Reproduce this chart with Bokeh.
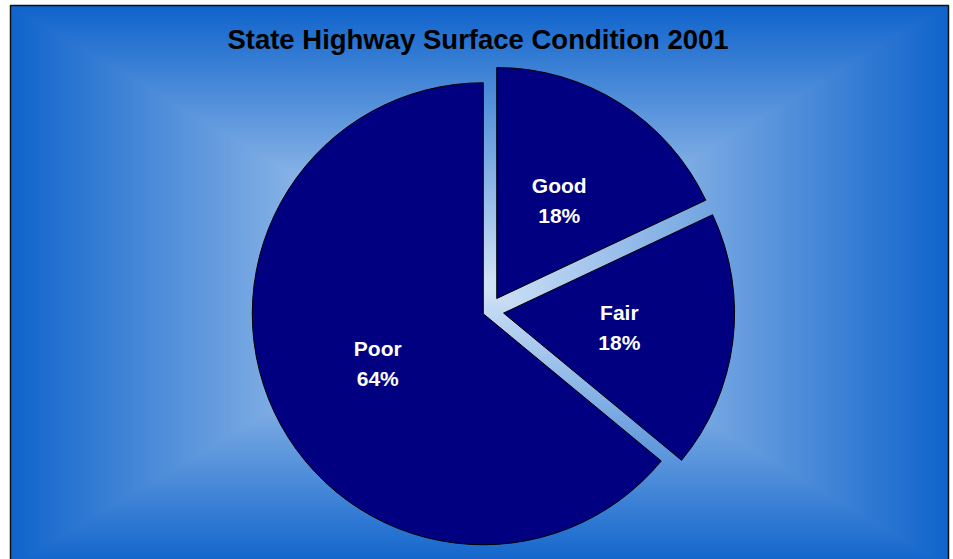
import numpy as np
from bokeh.plotting import figure
from bokeh.models import Range1d
from bokeh.core.properties import value
from bokeh.embed import file_html
from bokeh.resources import INLINE

# ---- data ----
categories = ["Good", "Fair", "Poor"]
values = [18, 18, 64]
title_text = "State Highway Surface Condition 2001"

# ---- styling / layout ----
W, H = 953, 559
CX, CY = 488.2, H - 310.7       # pie centre (data units == pixels)
R = 231
explode = [15, 15, 6]            # px offset of each slice along its bisector
slice_color = "#000080"
FONT = "Liberation Sans"

p = figure(width=W, height=H, x_range=Range1d(0, W), y_range=Range1d(0, H),
           output_backend="svg", toolbar_location=None, tools="", min_border=0)
p.axis.visible = False
p.grid.visible = False
p.outline_line_color = None
p.title.visible = False
p.background_fill_color = "white"
p.border_fill_color = "white"

# ---- background rectangular gradient (light centre -> blue edges) ----
x0, x1 = 10, 948
ytop, ybot = 5, 566
gw, gh = x1 - x0, ybot - ytop
xs = (np.arange(gw) + 0.5 - gw / 2) / (gw / 2)
ys = (np.arange(gh) + 0.5 - gh / 2) / (gh / 2)
t = np.maximum(np.abs(xs)[None, :], np.abs(ys)[:, None])
c_center = np.array([212, 229, 247], dtype=float)
c_edge = np.array([16, 100, 204], dtype=float)
rgb = c_center[None, None, :] + (c_edge - c_center)[None, None, :] * t[..., None]
img = np.empty((gh, gw), dtype=np.uint32)
view = img.view(dtype=np.uint8).reshape((gh, gw, 4))
view[..., 0] = rgb[..., 0].astype(np.uint8)
view[..., 1] = rgb[..., 1].astype(np.uint8)
view[..., 2] = rgb[..., 2].astype(np.uint8)
view[..., 3] = 255
p.image_rgba(image=[img], x=x0, y=H - ybot, dw=gw, dh=gh)
p.quad(left=[x0], right=[x1], top=[H - ytop], bottom=[H - ybot],
       fill_color=None, line_color="#111111", line_width=1.5)

# ---- pie ----
vals = np.array(values, dtype=float)
frac = vals / vals.sum()
cum = np.concatenate([[0], np.cumsum(frac)]) * 360.0   # clockwise from 12 o'clock
theta_s, theta_e = cum[:-1], cum[1:]
mid = np.radians(90 - (theta_s + theta_e) / 2)          # bisector, math angle
ex = np.array(explode, dtype=float)
px = CX + ex * np.cos(mid)
py = CY + ex * np.sin(mid)
start = np.radians(90 - theta_e)
end = np.radians(90 - theta_s)

p.wedge(x=px, y=py, radius=R, start_angle=start, end_angle=end,
        fill_color=slice_color, line_color="black", line_width=1)

# ---- labels ----
lx = px + 0.505 * R * np.cos(mid)
ly = py + 0.505 * R * np.sin(mid)
pct = [f"{f * 100:.0f}%" for f in frac]
p.text(x=lx, y=ly + 15, text=categories, text_align="center", text_baseline="middle",
       text_color="white", text_font=value(FONT), text_font_style="bold",
       text_font_size="21px")
p.text(x=lx, y=ly - 15, text=pct, text_align="center", text_baseline="middle",
       text_color="white", text_font=value(FONT), text_font_style="bold",
       text_font_size="21px")

# ---- title ----
p.text(x=[477.5], y=[H - 39], text=[title_text], text_align="center",
       text_baseline="middle", text_color="black", text_font=value(FONT),
       text_font_style="bold", text_font_size="27.5px")

open("out.html", "w").write(file_html(p, INLINE))
